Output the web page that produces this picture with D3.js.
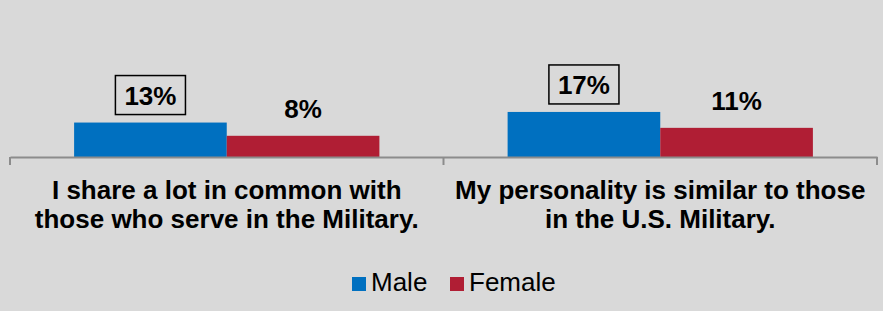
<!DOCTYPE html>
<html>
<head>
<meta charset="utf-8">
<script src="https://cdn.jsdelivr.net/npm/d3@7"></script>
<style>
  html, body { margin: 0; padding: 0; background: #d9d9d9; }
  svg { display: block; font-family: "Liberation Sans", Arial, sans-serif; }
</style>
</head>
<body>
<div class="chart"></div>
<script>
// chart data
var categories = [
  ["I share a lot in common with", "those who serve in the Military."],
  ["My personality is similar to those", "in the U.S. Military."]
];
var seriesNames = ["Male", "Female"];
var maleValues = [13, 17];
var femaleValues = [8, 11];
var colors = ["#0070c0", "#b01e34"];

var width = 883,
    height = 311,
    baseY = 157;

var svg = d3.select('.chart').append('svg').attr('width', width).attr('height', height);
svg.append('rect').attr('width', width).attr('height', height).attr('fill', '#d9d9d9');

var catIdx = categories.map(function (d, i) { return i; });

//outer band for each question
var x0 = d3.scaleBand().domain(catIdx).range([10, 877]).paddingInner(0).paddingOuter(0);
//inner band for male / female
var x1 = d3.scaleBand().domain(seriesNames).range([0, x0.bandwidth()]).paddingInner(0).paddingOuter(0.42);
var y = d3.scaleLinear().domain([0, 20]).range([baseY, 104]);

var rows = catIdx.map(function (i) {
  return [
    { cat: i, s: "Male", v: maleValues[i], c: colors[0], boxed: true },
    { cat: i, s: "Female", v: femaleValues[i], c: colors[1], boxed: false }
  ];
});

var groups = svg.selectAll('g.grp').data(rows).enter().append('g')
  .attr('class', 'grp')
  .attr('transform', function (d, i) { return 'translate(' + x0(i) + ',0)'; });

groups.selectAll('rect').data(function (d) { return d; }).enter().append('rect')
  .attr('x', function (d) { return x1(d.s); })
  .attr('y', function (d) { return y(d.v); })
  .attr('width', x1.bandwidth())
  .attr('height', function (d) { return y(0) - y(d.v); })
  .attr('fill', function (d) { return d.c; });

//value labels
var labels = groups.selectAll('g.lbl').data(function (d) { return d; }).enter().append('g').attr('class', 'lbl');
labels.each(function (d) {
  var g = d3.select(this);
  var cx = x1(d.s) + x1.bandwidth() / 2;
  var by = y(d.v) - 18;
  var t = g.append('text')
    .attr('x', cx).attr('y', by)
    .attr('text-anchor', 'middle')
    .attr('font-size', 26).attr('font-weight', 'bold')
    .attr('fill', '#000')
    .text(d.v + '%');
  if (d.boxed) {
    var w = t.node().getComputedTextLength();
    g.insert('rect', 'text')
      .attr('x', cx - w / 2 - 9).attr('y', by - 29)
      .attr('width', w + 18).attr('height', 39)
      .attr('fill', 'none').attr('stroke', '#000').attr('stroke-width', 1.5);
  }
});

//x axis
var axis = d3.axisBottom(x0).tickValues([]).tickSizeOuter(0);
var axG = svg.append('g').attr('transform', 'translate(0,' + baseY + ')').call(axis);
axG.select('.domain').attr('stroke', '#8c8c8c').attr('stroke-width', 2);
[10, x0(1), 877].forEach(function (tx) {
  axG.append('line').attr('x1', tx).attr('x2', tx).attr('y1', 0).attr('y2', 8)
    .attr('stroke', '#8c8c8c').attr('stroke-width', 2);
});

//category labels
catIdx.forEach(function (i) {
  var t = svg.append('text')
    .attr('x', x0(i) + x0.bandwidth() / 2)
    .attr('y', 199)
    .attr('text-anchor', 'middle')
    .attr('font-size', 26).attr('font-weight', 'bold').attr('fill', '#000');
  categories[i].forEach(function (line, j) {
    t.append('tspan').attr('x', x0(i) + x0.bandwidth() / 2).attr('dy', j === 0 ? 0 : 29).text(line);
  });
});

//legend
var legendX = [352, 450];
seriesNames.forEach(function (name, i) {
  svg.append('rect').attr('x', legendX[i]).attr('y', 277).attr('width', 14).attr('height', 14).attr('fill', colors[i]);
  svg.append('text').attr('x', legendX[i] + 19).attr('y', 291)
    .attr('font-size', 26).attr('fill', '#000').text(name);
});
</script>
</body>
</html>
